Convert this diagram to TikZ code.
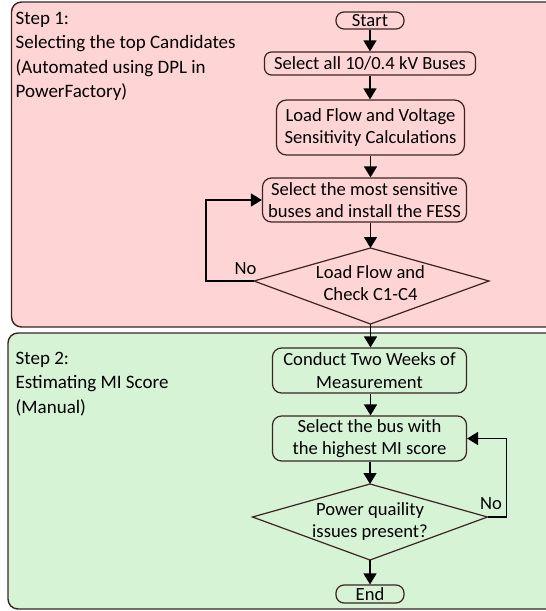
\documentclass[tikz,border=0pt]{standalone}
\usepackage{fontspec}
\setmainfont{Carlito}
\usetikzlibrary{arrows.meta}
\definecolor{pinkbg}{HTML}{FFD4D4}
\definecolor{greenbg}{HTML}{D6F3D6}
\definecolor{edge}{HTML}{3A2424}
\begin{document}
\begin{tikzpicture}[x=1pt,y=-1pt,
  box/.style={draw=edge, line width=1.2pt, rounded corners=7pt, inner sep=0pt, align=center, font=\fontsize{18.6}{22.5}\selectfont},
  term/.style={box, rounded corners=8pt},
  lbl/.style={inner sep=0pt, font=\fontsize{18.6}{22.5}\selectfont},
  steptext/.style={inner sep=0pt, align=left, anchor=north west, font=\fontsize{19}{24.5}\selectfont},
  arr/.style={line width=1.4pt, -{Triangle[width=13pt,length=11pt]}},
  dia/.style={draw=edge, line width=1.2pt},
  panel/.style={draw=edge, line width=1.4pt, rounded corners=10pt}]
\useasboundingbox (0,0) rectangle (546,611);
\clip (0,0) rectangle (546,611);
\draw[panel, fill=pinkbg] (11.5,2) rectangle (570,327);
\draw[panel, fill=greenbg] (8,333) rectangle (570,609);

\node[steptext] (step1) at (15.5,11.5) {Step 1:\\Selecting the top Candidates\\(Automated using DPL in\\PowerFactory)};
\node[steptext] (step2) at (15.5,351.5) {Step 2:\\Estimating MI Score\\(Manual)};

\node[term, minimum width=68pt, minimum height=17pt] (start) at (370,20.5) {Start};
\node[box, minimum width=211pt, minimum height=23pt] (selall) at (370,63.5) {Select all 10/0.4 kV Buses};
\node[box, minimum width=188pt, minimum height=55pt, rounded corners=10pt] (lf) at (370.5,127.5) {Load Flow and Voltage\\Sensitivity Calculations};
\node[box, minimum width=204pt, minimum height=44pt, rounded corners=9pt] (sens) at (364.5,200) {Select the most sensitive\\buses and install the FESS};

\coordinate (d1t) at (370.5,248);
\coordinate (d1r) at (489,281);
\coordinate (d1b) at (370.5,324);
\coordinate (d1l) at (254,281);
\draw[dia] (d1t) -- (d1r) -- (d1b) -- (d1l) -- cycle;
\node[lbl, align=center] (d1) at (370.5,283) {Load Flow and\\Check C1-C4};

\node[box, minimum width=194pt, minimum height=45pt, rounded corners=9pt] (cond) at (369.5,370.5) {Conduct Two Weeks of\\Measurement};
\node[box, minimum width=194pt, minimum height=45pt, rounded corners=9pt] (selbus) at (369.5,438.5) {Select the bus with\\the highest MI score};

\coordinate (d2t) at (370,484);
\coordinate (d2r) at (487.5,517);
\coordinate (d2l) at (252.5,517);
\coordinate (d2b) at (370,560);
\draw[dia] (d2t) -- (d2r) -- (d2b) -- (d2l) -- cycle;
\node[lbl, align=center] (d2) at (370,521.5) {Power quaility\\issues present?};

\node[term, minimum width=68pt, minimum height=18pt] (end) at (370,594) {End};

\node[lbl] (no1) at (245.5,269) {No};
\node[lbl] (no2) at (491,504) {No};

\draw[arr] (start.south) -- (start.south |- selall.north);
\draw[arr] (start.south |- selall.south) -- (start.south |- lf.north);
\draw[arr] (lf.south) -- (lf.south |- sens.north);
\draw[arr] (d1t |- sens.south) -- (d1t);
\draw[arr] (d1b) -- (d1b |- cond.north);
\draw[arr] (d1b |- cond.south) -- (d1b |- selbus.north);
\draw[arr] (d2t |- selbus.south) -- (d2t);
\draw[arr] (d2b) -- (d2b |- end.north);
\draw[arr] (d1l) -- ++(-48,0) |- (sens.west);
\draw[arr] (d2r) -- ++(19,0) |- (selbus.east);
\end{tikzpicture}
\end{document}
